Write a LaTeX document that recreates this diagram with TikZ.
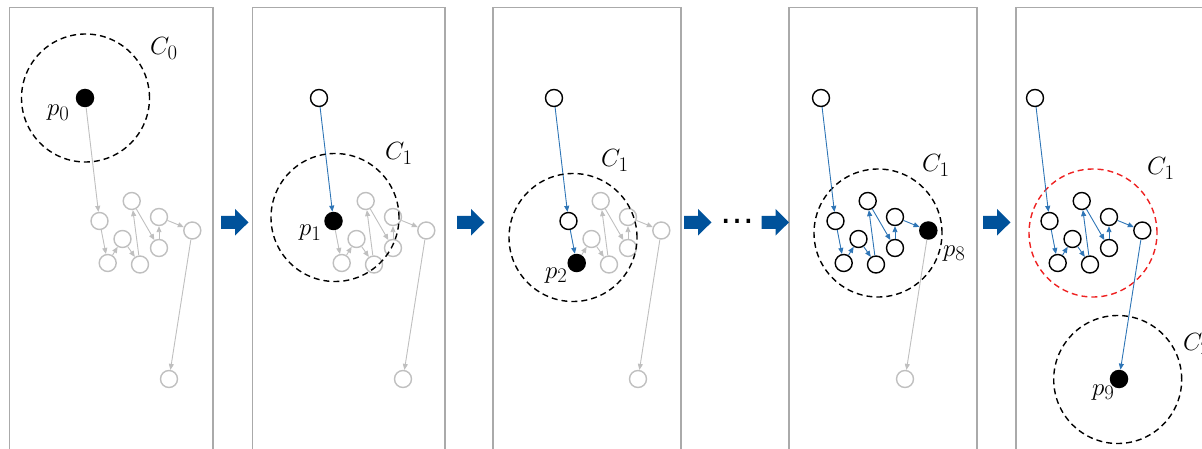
\documentclass[tikz,border=0pt]{standalone}
\usepackage{fontspec}
\newfontfamily\dejavu{DejaVu Sans}
\usetikzlibrary{arrows.meta}
\definecolor{nodegray}{RGB}{191,191,191}
\definecolor{framegray}{RGB}{170,170,170}
\definecolor{linkblue}{RGB}{46,117,182}
\definecolor{bigblue}{RGB}{0,82,155}
\definecolor{dashred}{RGB}{238,34,34}
\tikzset{
  gnode/.style={circle,draw=nodegray,line width=1.4pt,minimum size=17pt,inner sep=0pt},
  bnode/.style={circle,draw=black,line width=1.4pt,fill=white,minimum size=17pt,inner sep=0pt},
  fnode/.style={circle,fill=black,minimum size=18.5pt,inner sep=0pt},
  glink/.style={draw=nodegray,line width=0.9pt,-{Triangle[length=6pt,width=5pt]}},
  blink/.style={draw=linkblue,line width=0.9pt,-{Triangle[length=6pt,width=5pt]}},
  dcirc/.style={dash pattern=on 6pt off 4pt,line width=1.4pt},
  lab/.style={anchor=base west,inner sep=0pt,font=\fontsize{28}{32}\selectfont},
  panelframe/.style={draw=framegray,line width=1.8pt},
}
\newcommand\blockarr[1]{\fill[bigblue] (#1,215.8) -- ++(14,0) -- ++(0,-6.8) -- ++(13.5,13.3) -- ++(-13.5,13.3) -- ++(0,-6.8) -- ++(-14,0) -- cycle;}
\begin{document}
\begin{tikzpicture}[x=1pt,y=-1pt]
\useasboundingbox (0,0) rectangle (1202,449);
\clip (0,0) rectangle (1202,449);
% frames
\draw[panelframe] (9.5,470) -- (9.5,7.5) -- (212.7,7.5) -- (212.7,470);
\draw[panelframe] (252.5,470) -- (252.5,7.5) -- (445,7.5) -- (445,470);
\draw[panelframe] (492.7,470) -- (492.7,7.5) -- (681,7.5) -- (681,470);
\draw[panelframe] (789.3,470) -- (789.3,7.5) -- (977.3,7.5) -- (977.3,470);
\draw[panelframe] (1016,470) -- (1016,7.5) -- (1215,7.5);
% block arrows
\blockarr{221}
\blockarr{457}
\blockarr{684}
\blockarr{761.5}
\blockarr{983}
\node[anchor=base,inner sep=0pt,font=\dejavu\fontsize{34}{40}\selectfont] (dots) at (737,223) {…};
% panel 1
\begin{scope}
\node[fnode] (As) at (85,98) {};
\node[gnode] (A1) at (99.5,221) {};
\node[gnode] (A2) at (107.7,263) {};
\node[gnode] (A3) at (122.5,239) {};
\node[gnode] (A4) at (140,264.5) {};
\node[gnode] (A5) at (131.7,201) {};
\node[gnode] (A6) at (159,248) {};
\node[gnode] (A7) at (159,217) {};
\node[gnode] (A8) at (192.3,230.5) {};
\node[gnode] (A9) at (169,379) {};
\draw[glink] (As) -- (A1);
\draw[glink] (A1) -- (A2);
\draw[glink] (A2) -- (A3);
\draw[glink] (A3) -- (A4);
\draw[glink] (A4) -- (A5);
\draw[glink] (A5) -- (A6);
\draw[glink] (A6) -- (A7);
\draw[glink] (A7) -- (A8);
\draw[glink] (A8) -- (A9);
\draw[dcirc] (85.5,98) circle[radius=64pt];
\node[lab] (AC) at (150,55) {$C_0$};
\node[lab] (Ap) at (47,116) {$p_0$};
\end{scope}
% panel 2
\begin{scope}[xshift=234pt]
\node[bnode] (Bs) at (85,98) {};
\node[gnode] (B2) at (107.7,263) {};
\node[gnode] (B3) at (122.5,239) {};
\node[gnode] (B4) at (140,264.5) {};
\node[gnode] (B5) at (131.7,201) {};
\node[gnode] (B6) at (159,248) {};
\node[gnode] (B7) at (159,217) {};
\node[gnode] (B8) at (192.3,230.5) {};
\node[gnode] (B9) at (169,379) {};
\node[fnode] (B1) at (99.5,221) {};
\draw[blink] (Bs) -- (B1);
\draw[glink] (B1) -- (B2);
\draw[glink] (B2) -- (B3);
\draw[glink] (B3) -- (B4);
\draw[glink] (B4) -- (B5);
\draw[glink] (B5) -- (B6);
\draw[glink] (B6) -- (B7);
\draw[glink] (B7) -- (B8);
\draw[glink] (B8) -- (B9);
\draw[dcirc] (101,217.5) circle[radius=64pt];
\node[lab] (BC) at (151,160) {$C_1$};
\node[lab] (Bp) at (65,236) {$p_1$};
\end{scope}
% panel 3
\begin{scope}[xshift=469pt]
\node[gnode] (C3) at (122.5,239) {};
\node[gnode] (C4) at (140,264.5) {};
\node[gnode] (C5) at (131.7,201) {};
\node[gnode] (C6) at (159,248) {};
\node[gnode] (C7) at (159,217) {};
\node[gnode] (C8) at (192.3,230.5) {};
\node[gnode] (C9) at (169,379) {};
\node[bnode] (Cs) at (85,98) {};
\node[bnode] (C1) at (99.5,221) {};
\node[fnode] (C2) at (107.7,263) {};
\draw[blink] (Cs) -- (C1);
\draw[blink] (C1) -- (C2);
\draw[glink] (C2) -- (C3);
\draw[glink] (C3) -- (C4);
\draw[glink] (C4) -- (C5);
\draw[glink] (C5) -- (C6);
\draw[glink] (C6) -- (C7);
\draw[glink] (C7) -- (C8);
\draw[glink] (C8) -- (C9);
\draw[dcirc] (104,237.5) circle[radius=64pt];
\node[lab] (CC) at (132,167) {$C_1$};
\node[lab] (Cp) at (76,278) {$p_2$};
\end{scope}
% panel 4
\begin{scope}[xshift=736pt]
\node[gnode] (D9) at (169,379) {};
\draw[dcirc] (142,233) circle[radius=64pt];
\node[bnode] (Ds) at (85,98) {};
\node[bnode] (D1) at (99.5,221) {};
\node[bnode] (D2) at (107.7,263) {};
\node[bnode] (D3) at (122.5,239) {};
\node[bnode] (D4) at (140,264.5) {};
\node[bnode] (D5) at (131.7,201) {};
\node[bnode] (D6) at (159,248) {};
\node[bnode] (D7) at (159,217) {};
\node[fnode] (D8) at (192.3,230.5) {};
\draw[blink] (Ds) -- (D1);
\draw[blink] (D1) -- (D2);
\draw[blink] (D2) -- (D3);
\draw[blink] (D3) -- (D4);
\draw[blink] (D4) -- (D5);
\draw[blink] (D5) -- (D6);
\draw[blink] (D6) -- (D7);
\draw[blink] (D7) -- (D8);
\draw[glink] (D8) -- (D9);
\node[lab] (DC) at (186,172) {$C_1$};
\node[lab] (Dp) at (207,256) {$p_8$};
\end{scope}
% panel 5
\begin{scope}[xshift=950pt]
\draw[dcirc,draw=dashred] (143,233) circle[radius=64pt];
\draw[dcirc] (167.7,379.5) circle[radius=64pt];
\node[bnode] (Es) at (85,98) {};
\node[bnode] (E1) at (99.5,221) {};
\node[bnode] (E2) at (107.7,263) {};
\node[bnode] (E3) at (122.5,239) {};
\node[bnode] (E4) at (140,264.5) {};
\node[bnode] (E5) at (131.7,201) {};
\node[bnode] (E6) at (159,248) {};
\node[bnode] (E7) at (159,217) {};
\node[bnode] (E8) at (192.3,230.5) {};
\node[fnode] (E9) at (169,379) {};
\draw[blink] (Es) -- (E1);
\draw[blink] (E1) -- (E2);
\draw[blink] (E2) -- (E3);
\draw[blink] (E3) -- (E4);
\draw[blink] (E4) -- (E5);
\draw[blink] (E5) -- (E6);
\draw[blink] (E6) -- (E7);
\draw[blink] (E7) -- (E8);
\draw[blink] (E8) -- (E9);
\node[lab] (EC) at (197,175) {$C_1$};
\node[lab] (Ep) at (142,395) {$p_9$};
\node[lab] (EC2) at (233,350) {$C_2$};
\end{scope}
\end{tikzpicture}
\end{document}
